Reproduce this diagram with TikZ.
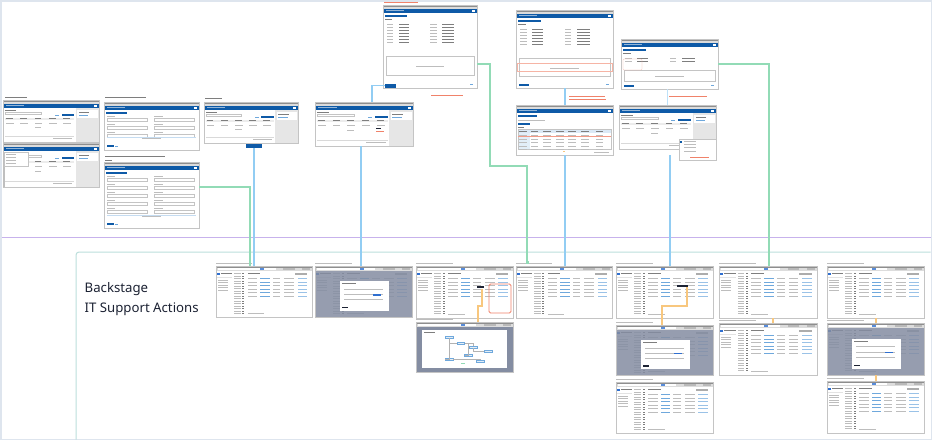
\documentclass[tikz,border=0pt]{standalone}
\usepackage{fontspec}
\setmainfont{Noto Sans}
\usetikzlibrary{calc}
\definecolor{hdrblue}{HTML}{0E5AA7}
\definecolor{chrome}{HTML}{8E8E8E}
\definecolor{chromelt}{HTML}{DCDCDC}
\definecolor{txt}{HTML}{BDBDBD}
\definecolor{txtdk}{HTML}{7E7E7E}
\definecolor{panel}{HTML}{E6E6E6}
\definecolor{shotedge}{HTML}{C4C4C4}
\definecolor{newblue}{HTML}{2F6FD0}
\definecolor{ovlgray}{HTML}{848DA2}
\definecolor{linkblue}{HTML}{6FA8DC}
\definecolor{conblue}{HTML}{92CDF3}
\definecolor{congreen}{HTML}{92DBB6}
\definecolor{conorange}{HTML}{F8C77E}
\definecolor{redtxt}{HTML}{F0826A}
\definecolor{outerfr}{HTML}{DEE5EE}
\definecolor{purpl}{HTML}{C7B2EC}
\definecolor{tealfr}{HTML}{BCDFDC}
\definecolor{titletxt}{HTML}{1C2233}
\tikzset{
  shotbox/.style={fill=white, inner sep=0pt, outer sep=0pt, anchor=north west},
  shotframe/.style={draw=shotedge, line width=0.6pt},
  conb/.style={draw=conblue, line width=1.3pt},
  cong/.style={draw=congreen, line width=1.3pt},
  cono/.style={draw=conorange, line width=1.3pt},
  thin/.style={line width=0.3pt},
  titletext/.style={anchor=base west, inner sep=0pt, text=titletxt, font=\fontsize{13.2}{16}\selectfont},
}
% old (top) screenshots: name, x, y, w, h, variant
\newcommand{\oldshot}[6]{%
  \node[shotbox, minimum width=#4pt, minimum height=#5pt] (#1) at (#2,#3) {};
  \begin{scope}[shift={(#2,#3)}, xscale=#4/100]
    \fill[chrome] (0,0) rectangle (100,2.2);
    \fill[chromelt] (0,2.2) rectangle (100,4.2);
    \fill[hdrblue] (0,4.2) rectangle (100,7.6);
    \fill[white!55!hdrblue] (3,5.4) rectangle (22,6.4);
    \fill[white] (95,5.2) rectangle (97.5,6.6);
    \ifcase#6
      \fill[panel] (76,7.6) rectangle (100,#5);
      \fill[white] (77.5,10) rectangle (98.5,18);
      \fill[txtdk] (79,11.5) rectangle (90,12.4);
      \fill[linkblue] (79,15) rectangle (89,15.8);
      \fill[txtdk] (2,10) rectangle (14,11);
      \draw[shotedge, thin] (2,12.5) rectangle (40,14.5);
      \fill[hdrblue] (61,14) rectangle (74,16.4);
      \fill[linkblue] (54,14.8) rectangle (58,15.6);
      \fill[gray!15] (2,17.5) rectangle (74,20);
      \foreach \xx in {3,18,33,48,63} {\fill[txtdk] (\xx,18.4) rectangle (\xx+7,19.2);}
      \foreach \xx in {3,18,33,48,63} {\fill[txt] (\xx,22.5) rectangle (\xx+8,23.3);}
      \fill[txt] (33,{#5/2+6}) rectangle (40,{#5/2+7});
      \draw[gray!30, thin] (2,{#5-6}) -- (74,{#5-6});
      \fill[txt] (52,{#5-4}) rectangle (72,{#5-3});
    \or
      \fill[hdrblue] (2,9.5) rectangle (24,11.5);
      \pgfmathsetmacro\fend{#5-18}
      \foreach \yy in {14,22,...,\fend} {
        \fill[txt] (3,\yy) rectangle (12,\yy+0.8);
        \draw[shotedge, thin] (3,\yy+2) rectangle (45,\yy+5);
        \fill[txt] (53,\yy) rectangle (62,\yy+0.8);
        \draw[shotedge, thin] (53,\yy+2) rectangle (95,\yy+5);
      }
      \draw[linkblue!40, thin] (3,{#5-13}) -- (97,{#5-13});
      \fill[txt] (40,{#5-12}) rectangle (60,{#5-11.2});
      \fill[hdrblue] (3,{#5-5}) rectangle (10,{#5-3});
      \fill[linkblue] (12,{#5-4.5}) rectangle (15,{#5-3.5});
    \or
      \fill[hdrblue] (2,9.5) rectangle (26,11.5);
      \fill[txtdk] (2,14) rectangle (10,15);
      \pgfmathsetmacro\dend{0.45*#5}
      \foreach \yy in {19,22,...,\dend} {
        \fill[txt] (4,\yy) rectangle (11,\yy+.8);
        \fill[txtdk] (17,\yy) rectangle (28,\yy+.8);
        \fill[txt] (50,\yy) rectangle (57,\yy+.8);
        \fill[txtdk] (63,\yy) rectangle (76,\yy+.8);
      }
      \draw[shotedge, thin] (3,{0.62*#5}) rectangle (97,{0.85*#5});
      \fill[txt] (35,{0.74*#5}) rectangle (65,{0.74*#5+.7});
      \fill[hdrblue] (3,{#5-4.5}) rectangle (13,{#5-2.5});
      \fill[linkblue] (93,{#5-4}) rectangle (96,{#5-3});
    \or
      \fill[hdrblue] (2,10) rectangle (22,12);
      \fill[txt] (2,15) rectangle (30,16);
      \fill[hdrblue] (2,17.5) rectangle (14,19.5);
      \fill[txtdk] (2,22) rectangle (8,23);
      \fill[linkblue!25] (2,24) rectangle (98,28);
      \fill[linkblue!20] (2,28) rectangle (14,{#5-6});
      \draw[shotedge, thin] (2,24) rectangle (98,{#5-6});
      \foreach \xx in {3,15,28,41,54,67,82} {\fill[txtdk] (\xx,25.5) rectangle (\xx+8,26.3);}
      \foreach \yy in {30,33.5,...,44} {\foreach \xx in {3,15,28,41,54,67,82} {\fill[txt] (\xx,\yy) rectangle (\xx+8,\yy+.7);}}
      \draw[redtxt!80, line width=.8pt] (2,31.5) -- (98,31.5);
      \fill[conorange] (48,{#5-4}) rectangle (50,{#5-3});
      \fill[txt] (80,{#5-3.5}) rectangle (96,{#5-2.7});
    \fi
  \end{scope}
  \draw[shotframe] (#1.north west) rectangle (#1.south east);
}
% new (bottom) screenshots: name, x, y, w, h, variant (0 plain, 1 modal, 2 diagram)
\newcommand{\newshot}[6]{%
  \node[shotbox, minimum width=#4pt, minimum height=#5pt] (#1) at (#2,#3) {};
  \begin{scope}[shift={(#2,#3)}, xscale=#4/100]
    \fill[txt] (0,-3.2) rectangle (38,-2.2);
    \fill[chrome] (0,0) rectangle (100,1.6);
    \fill[chromelt] (0,1.6) rectangle (100,4.6);
    \fill[white] (2,2.3) rectangle (62,3.9);
    \fill[newblue!80] (46,2.3) rectangle (50,3.9);
    \fill[gray!55] (70,2.3) rectangle (82,3.9);
    \fill[gray!55] (90,2.3) rectangle (98,3.9);
    \fill[newblue] (1.5,6.8) rectangle (4.5,9.3);
    \fill[txtdk] (5.5,7.4) rectangle (17,8.4);
    \fill[gray!22] (1,10.6) rectangle (17,12.2);
    \foreach \yy in {13.8,16.3,...,26} {\fill[txt] (2.5,\yy) rectangle (12,\yy+0.7);}
    \pgfmathsetmacro\navend{#5-3}
    \foreach \yy in {7,9.5,...,\navend} {\fill[txt] (19,\yy) rectangle (26,\yy+0.7); \fill[txtdk] (27.5,\yy) rectangle (29.5,\yy+0.7);}
    \fill[txtdk] (33,7.4) rectangle (46,8.4);
    \fill[gray!65] (82,6.8) rectangle (95,8.6);
    \foreach \yy in {12,15.5,...,30} {\fill[txt] (33,\yy) rectangle (43,\yy+0.7); \fill[linkblue] (46,\yy) rectangle (56,\yy+0.7); \fill[txt] (59,\yy) rectangle (67,\yy+0.7); \fill[txt] (71,\yy) rectangle (81,\yy+0.7); \fill[linkblue!70] (85,\yy) rectangle (95,\yy+0.7);}
    \fill[txt] (33,{#5-4}) rectangle (50,{#5-3.3});
    \ifcase#6\or
      \fill[ovlgray, opacity=0.85] (0,4.6) rectangle (100,#5);
      \fill[white] (26,{0.3*#5}) rectangle (76,{0.88*#5});
      \fill[txtdk] (28,{0.3*#5+2}) rectangle (42,{0.3*#5+3});
      \foreach \ff in {0.45,0.55,0.65} {\fill[txt] (30,{\ff*#5}) rectangle (70,{\ff*#5+.7});}
      \fill[newblue] (60,{0.55*#5}) rectangle (68,{0.55*#5+1.5});
      \fill[titletxt] (28,{0.88*#5-4}) rectangle (34,{0.88*#5-2.4});
    \or
      \fill[ovlgray] (0,4.6) rectangle (100,#5);
      \fill[white] (6,8) rectangle (94,{#5-4});
      \fill[txtdk] (8,10) rectangle (20,11);
      \foreach \bx/\by in {30/14,42/20,55/24,70/28,50/32,30/36,62/38} {\draw[linkblue, thin, fill=linkblue!20] (\bx,\by) rectangle (\bx+8,\by+2);}
      \draw[gray!60, thin] (34,16) |- (42,21) (50,21) -| (59,24) (59,26) |- (70,29) (54,22) |- (50,33) (34,16) |- (30,37) (38,37) -| (66,38);
      \fill[congreen] (46,{#5-9}) rectangle (50,{#5-8});
    \fi
  \end{scope}
  \draw[shotframe] (#1.north west) rectangle (#1.south east);
}
\begin{document}
\begin{tikzpicture}[x=1pt, y=-1pt]
\useasboundingbox (0,0) rectangle (932,440);
\fill[white] (0,0) rectangle (932,440);
% frames
\draw[outerfr, line width=1.5pt] (0.75,0.75) rectangle (931.25,439.25);
\draw[purpl, line width=1pt] (1.5,237) -- (930.5,237);
\draw[tealfr, line width=1pt, rounded corners=3pt] (930.5,252) -- (76,252) -- (76,439.5);

% ---------- top: old screenshots ----------
\fill[txtdk] (5,96.5) rectangle (27,97.5);
\fill[txtdk] (105,96.5) rectangle (146,97.5);
\fill[txtdk] (205,97.5) rectangle (222,98.5);
\fill[txtdk] (105,156) rectangle (165,157);
\fill[txtdk] (105,159.5) rectangle (112,160.5);
\fill[redtxt] (384,2) rectangle (418,3.2);

\oldshot{A1}{3}{100}{96}{42}{0}
\oldshot{A2}{3}{143}{96}{44}{0}
\fill[gray!50] (3,152) rectangle (4.5,187);
\node[shotbox, draw=shotedge, line width=.4pt, minimum width=24pt, minimum height=14pt] (A2drop) at (4,152) {};
\foreach \yy in {154,157,160,163} {\fill[txt] (6,\yy) rectangle (16,\yy+0.8);}
\oldshot{B1}{104}{102}{95}{48}{1}
\oldshot{B2}{104}{162}{95}{66}{1}
\oldshot{C}{204}{102}{94}{41}{0}
\node[shotbox, fill=hdrblue, minimum width=16pt, minimum height=4pt] (Cb) at (246,144) {};
\oldshot{E}{315}{102}{98}{44}{0}
\fill[titletxt] (376,128) rectangle (381,129);
\fill[redtxt] (376,130.5) rectangle (384,131.3);
\oldshot{D}{383}{5}{94}{83}{2}
\node[shotbox, fill=hdrblue, minimum width=11pt, minimum height=3.5pt] (Db) at (385,84) {};
\fill[redtxt] (431,94.5) rectangle (463,95.5);
\oldshot{F}{516}{10}{97}{78}{2}
\draw[redtxt!60, thin] (517,63) rectangle (612,71);
\fill[redtxt] (569,95.5) rectangle (605,96.5);
\fill[redtxt] (569,98.8) rectangle (606,99.8);
\oldshot{G}{516}{105}{97}{50}{3}
\oldshot{H}{621}{39}{97}{50}{2}
\draw[redtxt!60, thin, rounded corners=1pt] (623,59) rectangle (642,70);
\fill[redtxt] (669,96.3) rectangle (707,97.3);
\oldshot{I}{619}{105}{97}{44}{0}
\node[shotbox, draw=shotedge, line width=.4pt, minimum width=37pt, minimum height=21pt] (Ipop) at (679,139) {};
\fill[hdrblue] (680,140.5) rectangle (682,142.5);
\foreach \yy in {141,144,147,151} {\fill[txt] (684,\yy) rectangle (696,\yy+0.8);}
\fill[redtxt] (690,156.5) rectangle (709,157.5);

% ---------- bottom: new screenshots ----------
\node[titletext] (title1) at (84.5,292.5) {Backstage};
\node[titletext] (title2) at (84.5,312) {IT Support Actions};

\newshot{R1}{216}{266}{96}{51}{0}
\newshot{R2}{315}{266}{97}{51}{1}
\newshot{R3}{416}{266}{97}{52}{0}
\draw[redtxt, line width=.8pt, rounded corners=1.5pt] ($(R3.north west)+(73,18)$) rectangle ($(R3.north west)+(95,47)$);
\fill[titletxt] (477,286) rectangle (484,288);
\newshot{R3b}{416}{322}{97}{50}{2}
\newshot{R4}{516}{266}{96}{52}{0}
\newshot{R5}{616}{266}{97}{52}{0}
\fill[titletxt] (677,285) rectangle (688,287);
\newshot{R5b}{616}{325}{97}{50}{1}
\newshot{R5c}{616}{382}{97}{51}{0}
\newshot{R6}{719}{266}{98}{52}{0}
\newshot{R6b}{719}{323}{98}{52}{0}
\newshot{R7}{827}{266}{97}{52}{0}
\newshot{R7b}{827}{323}{97}{52}{1}
\newshot{R7c}{827}{381}{97}{52}{0}

% ---------- connectors ----------
\coordinate (gD) at (490,166);
\draw[cong] ($(B2.north east)+(0,25)$) -| ($(R1.north west)+(34,0)$);
\draw[conb] (Cb.south) -- (Cb.south |- R1.north);
\draw[conb] ($(E.north west)+(57,0)$) |- (Db.west);
\draw[conb] ($(E.south west)+(46,0)$) -- ($(R2.north west)+(46,0)$);
\draw[cong] ($(D.north east)+(0,59)$) -| (gD) -| ($(R4.north west)+(11,-4)$);
\fill[congreen] ($(R4.north west)+(9.5,-5)$) rectangle ($(R4.north west)+(12.5,-2)$);
\draw[conb] ($(F.south west)+(49,0)$) -- ($(G.north west)+(49,0)$);
\draw[conb] ($(G.south west)+(49,0)$) -- ($(R4.north west)+(49,0)$);
\draw[conblue!60, line width=0.6pt] ($(H.south west)+(46,0)$) -- ($(I.north west)+(48,0)$);
\draw[conb] ($(I.south west)+(51,6)$) -- ($(R5.north west)+(54,0)$);
\draw[cong] ($(H.north east)+(0,25)$) -| ($(R6.north west)+(50,0)$);
\draw[cono] ($(R3.north west)+(66,23)$) -- ($(R3.north west)+(66,40)$) -| ($(R3b.north west)+(62,0)$);
\draw[cono] ($(R5.north west)+(71,21)$) -- ($(R5.north west)+(71,40)$) -| ($(R5b.north west)+(46,0)$);
\draw[cono] ($(R6.south west)+(54,0)$) -- ($(R6b.north west)+(54,0)$);
\draw[cono] ($(R7.south west)+(49,0)$) -- ($(R7b.north west)+(49,0)$);
\draw[cono] ($(R7b.south west)+(49,0)$) -- ($(R7c.north west)+(49,0)$);
\end{tikzpicture}
\end{document}
